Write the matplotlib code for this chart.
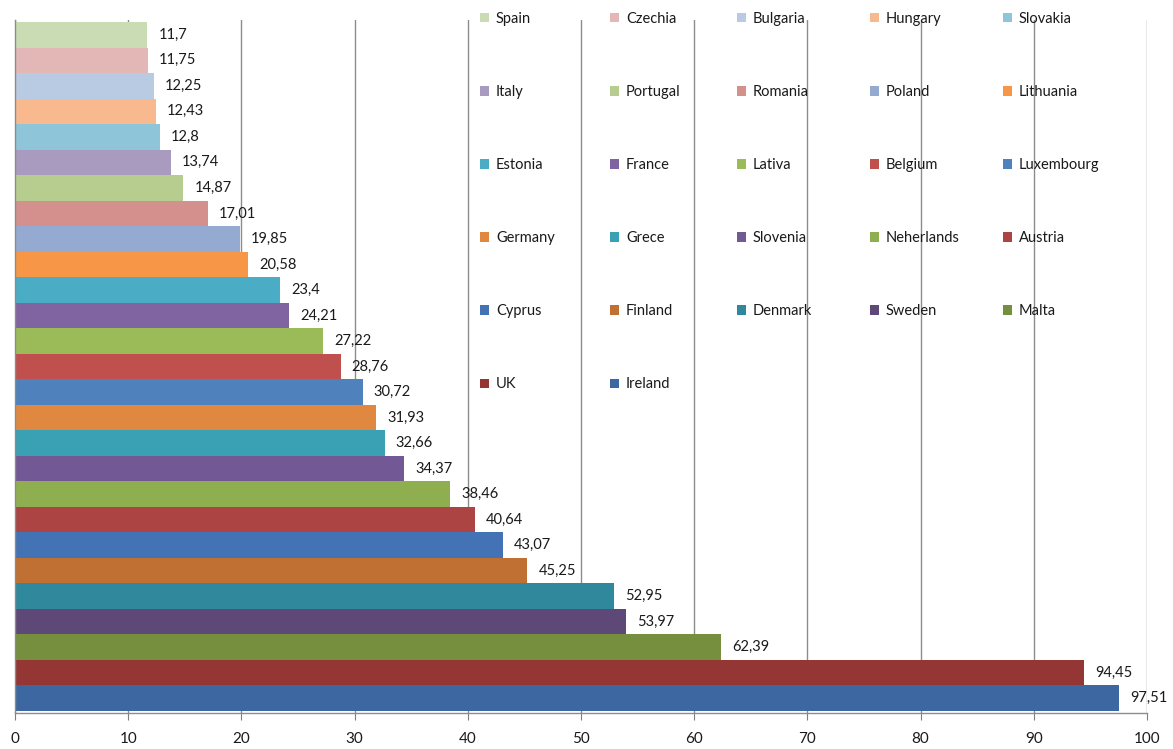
import matplotlib.pyplot as plt
from matplotlib.patches import Patch
from matplotlib.legend import Legend

# Countries listed from the top bar down
countries = ["Spain", "Czechia", "Bulgaria", "Hungary", "Slovakia",
             "Italy", "Portugal", "Romania", "Poland", "Lithuania",
             "Estonia", "France", "Lativa", "Belgium", "Luxembourg",
             "Germany", "Grece", "Slovenia", "Neherlands", "Austria",
             "Cyprus", "Finland", "Denmark", "Sweden", "Malta",
             "UK", "Ireland"]
values = [11.7, 11.75, 12.25, 12.43, 12.8,
          13.74, 14.87, 17.01, 19.85, 20.58,
          23.4, 24.21, 27.22, 28.76, 30.72,
          31.93, 32.66, 34.37, 38.46, 40.64,
          43.07, 45.25, 52.95, 53.97, 62.39,
          94.45, 97.51]
colors = ["#C9DCB3", "#E3B7B6", "#B9CAE3", "#F9B98F", "#8FC5D8",
          "#A99ABF", "#B7CD90", "#D3908D", "#95AAD1", "#F79646",
          "#4BACC6", "#8064A2", "#9BBB59", "#C0504D", "#4F81BD",
          "#E0883F", "#3AA1B5", "#735896", "#8EAE50", "#AB4442",
          "#4373B5", "#BF7032", "#30889C", "#5E4878", "#758F3F",
          "#943634", "#3D67A0"]
xticks = [0, 10, 20, 30, 40, 50, 60, 70, 80, 90, 100]

plt.rcParams['font.family'] = ['Lato', 'DejaVu Sans']

fig = plt.figure(figsize=(11.73, 7.49), dpi=100)
ax = fig.add_axes([15 / 1173, 36 / 749, 1132 / 1173, 693 / 749])

n = len(values)
ypos = [n - 1 - i for i in range(n)]
bars = ax.barh(ypos, values, height=1.0, color=colors, edgecolor='none', zorder=2)

for y, v in zip(ypos, values):
    ax.annotate(f"{v:g}".replace('.', ','), xy=(v, y), xytext=(8, 0),
                textcoords='offset points', ha='left', va='center',
                fontsize=10.5, color='#1a1a1a', zorder=3)

ax.set_xlim(0, 100)
ax.set_ylim(-0.58, n - 0.42)
ax.set_xticks(xticks)
ax.set_xticklabels([str(t) for t in xticks], fontsize=11, color='#1a1a1a')
ax.set_yticks([])
ax.tick_params(axis='x', length=5, color='#7f7f7f', pad=9)
ax.grid(axis='x', color='#8c8c8c', linewidth=1, zorder=0)
ax.set_axisbelow(True)
for side in ['top', 'right']:
    ax.spines[side].set_visible(False)
for side in ['left', 'bottom']:
    ax.spines[side].set_color('#8c8c8c')
    ax.spines[side].set_linewidth(1)

# Legend laid out row by row in five evenly spaced columns
col_x = [480, 610, 737, 870, 1003]
for c in range(5):
    idx = list(range(c, n, 5))
    handles = [Patch(facecolor=colors[i], edgecolor='none') for i in idx]
    leg = Legend(ax, handles, [countries[i] for i in idx],
                 loc='upper left',
                 bbox_to_anchor=(col_x[c] / 1173, 1 - 12 / 749),
                 bbox_transform=fig.transFigure,
                 frameon=False, fontsize=10.5,
                 handlelength=0.6, handleheight=0.6,
                 handletextpad=0.5, labelspacing=4.05,
                 borderpad=0, borderaxespad=0)
    for t in leg.get_texts():
        t.set_color('#1a1a1a')
    ax.add_artist(leg)

fig.savefig("out.png", dpi=100)
